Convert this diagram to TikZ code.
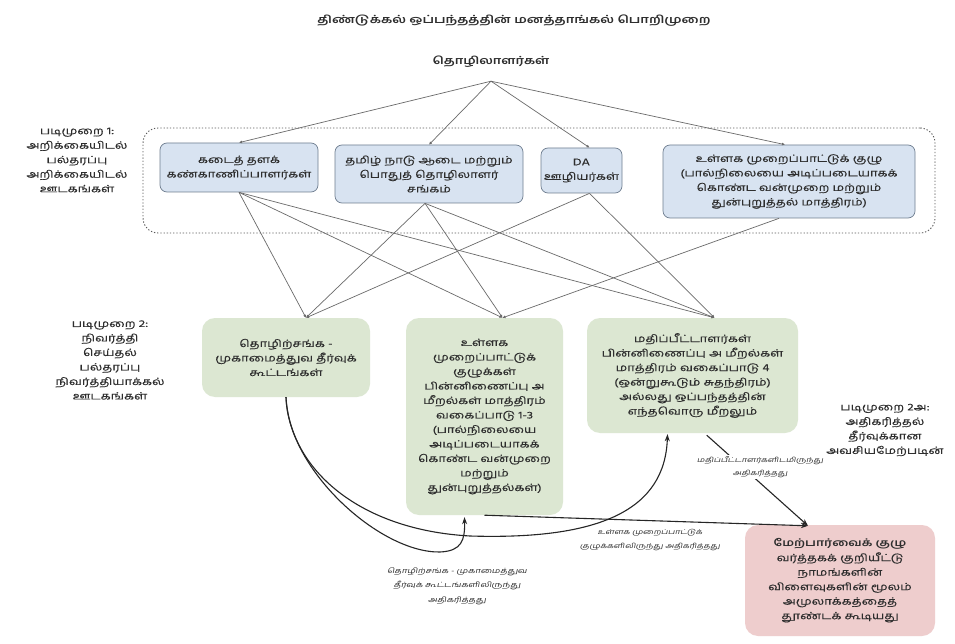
\documentclass[tikz,border=0pt]{standalone}
\usepackage{fontspec}
\setmainfont[Script=Tamil, FakeStretch=1.3, AutoFakeSlant=0.2, UprightFeatures={FakeBold=0.3}]{Hind Madurai}
\usetikzlibrary{arrows.meta}
\definecolor{bluefill}{HTML}{D8E3F1}
\definecolor{blueline}{HTML}{6F7E90}
\definecolor{greenfill}{HTML}{DCE7D2}
\definecolor{redfill}{HTML}{EECDCD}
\definecolor{txt}{HTML}{2E2E2E}
\definecolor{conn}{HTML}{6A6A6A}
\newcommand\boxfont{\fontsize{10}{14.5}\selectfont}
\newcommand\lblfont{\fontsize{10}{14.5}\selectfont}
\newcommand\edgefont{\fontsize{6.8}{13.5}\selectfont\itshape}
\begin{document}
\begin{tikzpicture}[x=1pt,y=-1pt,
  every node/.style={text=txt},
  bluebox/.style={draw=blueline, line width=0.7pt, fill=bluefill, rounded corners=7pt, align=center, font=\boxfont, inner sep=1pt},
  greenbox/.style={fill=greenfill, rounded corners=13pt, align=center, font=\boxfont, inner sep=1pt},
  redbox/.style={fill=redfill, rounded corners=13pt, align=center, font=\boxfont, inner sep=1pt},
  container/.style={draw=black!65, dash pattern=on 1.3pt off 1.9pt, line width=0.9pt, rounded corners=15pt},
  sidelbl/.style={align=center, font=\lblfont},
  edgelbl/.style={align=center, font=\edgefont},
  thinconn/.style={draw=conn, line width=0.7pt, -{Latex[length=3pt,width=3pt]}},
  esc/.style={draw=black!85, line width=1.1pt, -{Stealth[length=7pt,width=5pt]}}
]
\useasboundingbox (0,0) rectangle (955,644);
\fill[white] (0,0) rectangle (955,644);

\node[font=\bfseries\fontsize{10.6}{12}\selectfont] (title) at (514,21) {திண்டுக்கல் ஒப்பந்தத்தின் மனத்தாங்கல் பொறிமுறை};
\node[font=\bfseries\fontsize{10.5}{12}\selectfont, minimum height=38, inner sep=0pt] (workers) at (491,62) {தொழிலாளர்கள்};

\node[container, minimum width=792, minimum height=105] (grp) at (539,180.5) {};

\node[sidelbl] (step1) at (77,160) {படிமுறை 1:\\அறிக்கையிடல்\\பல்தரப்பு\\அறிக்கையிடல்\\ஊடகங்கள்};
\node[sidelbl] (step2) at (110,360) {படிமுறை 2:\\நிவர்த்தி\\செய்தல்\\பல்தரப்பு\\நிவர்த்தியாக்கல்\\ஊடகங்கள்};
\node[sidelbl] (step2a) at (885,430) {படிமுறை 2அ:\\அதிகரித்தல்\\தீர்வுக்கான\\அவசியமேற்படின்};

\node[bluebox, minimum width=158, minimum height=49] (b1) at (239,167.5) {கடைத் தளக்\\கண்காணிப்பாளர்கள்};
\node[bluebox, minimum width=188, minimum height=58] (b2) at (429,174) {தமிழ் நாடு ஆடை மற்றும்\\பொதுத் தொழிலாளர்\\சங்கம்};
\node[bluebox, minimum width=81, minimum height=45] (da) at (581.5,170.5) {DA\\ஊழியர்கள்};
\node[bluebox, minimum width=252, minimum height=73] (b4) at (789,181.5) {உள்ளக முறைப்பாட்டுக் குழு\\(பால்நிலையை அடிப்படையாகக்\\கொண்ட வன்முறை மற்றும்\\துன்புறுத்தல் மாத்திரம்)};

\node[greenbox, minimum width=168, minimum height=79] (g1) at (286,357.5) {தொழிற்சங்க -\\முகாமைத்துவ தீர்வுக்\\கூட்டங்கள்};
\node[greenbox, minimum width=157, minimum height=197] (g2) at (484.5,416.5) {உள்ளக\\முறைப்பாட்டுக்\\குழுக்கள்\\பின்னிணைப்பு அ\\மீறல்கள் மாத்திரம்\\வகைப்பாடு 1-3\\(பால்நிலையை\\அடிப்படையாகக்\\கொண்ட வன்முறை\\மற்றும்\\துன்புறுத்தல்கள்)};
\node[greenbox, minimum width=211, minimum height=115] (g3) at (692.5,375.5) {மதிப்பீட்டாளர்கள்\\பின்னிணைப்பு அ மீறல்கள்\\மாத்திரம் வகைப்பாடு 4\\(ஒன்றுகூடும் சுதந்திரம்)\\அல்லது ஒப்பந்தத்தின்\\எந்தவொரு மீறலும்};
\node[redbox, minimum width=190, minimum height=111] (red) at (840,580.5) {\textbf{மேற்பார்வைக் குழு}\\வர்த்தகக் குறியீட்டு\\நாமங்களின்\\விளைவுகளின் மூலம்\\அமுலாக்கத்தைத்\\தூண்டக் கூடியது};

% workers -> tier 1
\draw[thinconn] (workers.south) -- (b1.north);
\draw[thinconn] (workers.south) -- (b2.north);
\draw[thinconn] (workers.south) -- ([xshift=8pt]da.north);
\draw[thinconn] (workers.south) -- ([xshift=-4pt]b4.north);

% tier 1 -> tier 2
\draw[thinconn] (b1.south) -- ([xshift=20pt]g1.north);
\draw[thinconn] (b1.south) -- ([xshift=18pt]g2.north);
\draw[thinconn] (b1.south) -- ([xshift=22pt]g3.north);
\draw[thinconn] ([xshift=-4pt]b2.south) -- ([xshift=20pt]g1.north);
\draw[thinconn] ([xshift=-4pt]b2.south) -- ([xshift=18pt]g2.north);
\draw[thinconn] ([xshift=-4pt]b2.south) -- ([xshift=22pt]g3.north);
\draw[thinconn] ([xshift=8pt]da.south) -- ([xshift=20pt]g1.north);
\draw[thinconn] ([xshift=8pt]da.south) -- ([xshift=22pt]g3.north);
\draw[thinconn] ([xshift=-10pt]b4.south) -- ([xshift=18pt]g2.north);

% escalations
\draw[esc] (g2.south) -- ([xshift=-32pt,yshift=-1pt]red.north);
\draw[esc, shorten <=3pt] ([xshift=12pt]g3.south) -- ([xshift=-32pt,yshift=-1pt]red.north);
\draw[esc] (g1.south) .. controls (288,470) and (380,553) .. (440,552) .. controls (462,551) and (465,540) .. ([xshift=-20pt,yshift=-2pt]g2.south);
\draw[esc] (g1.south) .. controls (290,470) and (360,530) .. (470,536) .. controls (600,540) and (665,510) .. ([xshift=-25pt,yshift=-1pt]g3.south);

\node[edgelbl, fill=white, inner sep=1pt] (l3) at (760,467) {மதிப்பீட்டாளர்களிடமிருந்து\\அதிகரித்தது};
\node[edgelbl] (l2) at (650,540) {உள்ளக முறைப்பாட்டுக்\\குழுக்களிலிருந்து அதிகரித்தது};
\node[edgelbl, font=\itshape\fontsize{7.2}{14.5}\selectfont] (l1) at (457,586) {தொழிற்சங்க - முகாமைத்துவ\\தீர்வுக் கூட்டங்களிலிருந்து\\அதிகரித்தது};
\end{tikzpicture}
\end{document}
